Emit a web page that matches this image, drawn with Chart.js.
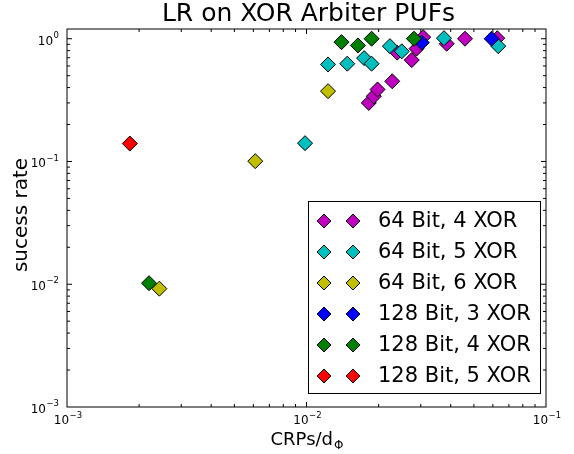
<!DOCTYPE html>
<html>
<head>
<meta charset="utf-8">
<script src="https://cdn.jsdelivr.net/npm/chart.js@4.4.0/dist/chart.umd.min.js"></script>
<style>
  html, body { margin: 0; padding: 0; background: #fff; }
  canvas { display: block; }
</style>
</head>
<body>
<canvas id="puf-chart" width="574" height="454"></canvas>
<script>
// series, in legend order
const seriesLabels = ['64 Bit, 4 XOR', '64 Bit, 5 XOR', '64 Bit, 6 XOR', '128 Bit, 3 XOR', '128 Bit, 4 XOR', '128 Bit, 5 XOR'];
const seriesColors = ['#bf00bf', '#00bfbf', '#bfbf00', '#0000ff', '#008000', '#ff0000'];

// CRPs/d_Phi (x) and success rate (y)
const b64x4CRPs = [0.0182, 0.0191, 0.0198, 0.0228, 0.0239, 0.0275, 0.0288, 0.0307, 0.0385, 0.0459, 0.0626];
const b64x4Rate = [0.30, 0.34, 0.386, 0.45, 0.77, 0.67, 0.83, 1.03, 0.91, 1.0, 1.01];
const b64x5CRPs = [0.00986, 0.0123, 0.0148, 0.0174, 0.0187, 0.0223, 0.0250, 0.0375, 0.0632];
const b64x5Rate = [0.141, 0.617, 0.626, 0.695, 0.626, 0.87, 0.79, 1.01, 0.87];
const b64x6CRPs = [0.00243, 0.00611, 0.0123];
const b64x6Rate = [0.0092, 0.1006, 0.374];
const b128x3CRPs = [0.0303, 0.0593];
const b128x3Rate = [0.93, 1.0];
const b128x4CRPs = [0.0022, 0.0140, 0.0164, 0.0187, 0.0281];
const b128x4Rate = [0.0102, 0.938, 0.882, 1.0, 1.0];
const b128x5CRPs = [0.00183];
const b128x5Rate = [0.140];

const xRange = [0.001, 0.1];
const yRange = [0.001, 1.2];

const seriesX = [b64x4CRPs, b64x5CRPs, b64x6CRPs, b128x3CRPs, b128x4CRPs, b128x5CRPs];
const seriesY = [b64x4Rate, b64x5Rate, b64x6Rate, b128x3Rate, b128x4Rate, b128x5Rate];

const FONT = 'DejaVu Sans';

function exponentOf(value) {
    const e = Math.log10(value);
    const r = Math.round(e);
    return Math.abs(e - r) > 1e-6 ? null : r;
}

function mantissa(v) {
    return v / Math.pow(10, Math.floor(Math.log10(v) + 1e-9));
}

function diamond(ctx, x, y, r, color) {
    ctx.beginPath();
    ctx.moveTo(x - r, y);
    ctx.lineTo(x, y - r);
    ctx.lineTo(x + r, y);
    ctx.lineTo(x, y + r);
    ctx.closePath();
    ctx.fillStyle = color;
    ctx.fill();
    ctx.lineWidth = 1;
    ctx.strokeStyle = '#000';
    ctx.stroke();
}

// "10" with a raised exponent, like matplotlib's mathtext labels
function powerLabel(ctx, exp, x, y, align) {
    const base = '10';
    const sup = String(exp).replace('-', '\u2212');
    ctx.font = `12px "${FONT}"`;
    const wb = ctx.measureText(base).width;
    ctx.font = `8.5px "${FONT}"`;
    const ws = ctx.measureText(sup).width;
    let left = align === 'right' ? x - wb - ws - 0.5 : x - (wb + ws + 0.5) / 2;
    ctx.textAlign = 'left';
    ctx.textBaseline = 'alphabetic';
    ctx.font = `12px "${FONT}"`;
    ctx.fillText(base, left, y + 4.4);
    ctx.font = `8.5px "${FONT}"`;
    ctx.fillText(sup, left + wb + 0.5, y - 2.3);
}

// matplotlib-ish frame with inward ticks on all four sides
const framePlugin = {
    id: 'frame',
    beforeDatasetsDraw(chart) {
        const { ctx, chartArea: a, scales } = chart;
        ctx.save();
        ctx.strokeStyle = '#000';
        ctx.lineWidth = 1;
        ctx.strokeRect(a.left, a.top, a.right - a.left, a.bottom - a.top);

        ctx.beginPath();
        scales.x.ticks.forEach(t => {
            const m = mantissa(t.value);
            if (Math.abs(m - Math.round(m)) > 1e-6) return;
            const px = scales.x.getPixelForValue(t.value);
            if (px <= a.left + 0.5 || px >= a.right - 0.5) return;
            const len = Math.round(m) === 1 ? 5 : 3;
            ctx.moveTo(px, a.bottom); ctx.lineTo(px, a.bottom - len);
            ctx.moveTo(px, a.top); ctx.lineTo(px, a.top + len);
        });
        scales.y.ticks.forEach(t => {
            const m = mantissa(t.value);
            if (Math.abs(m - Math.round(m)) > 1e-6) return;
            const py = scales.y.getPixelForValue(t.value);
            if (py >= a.bottom - 0.5 || py <= a.top + 0.5) return;
            const len = Math.round(m) === 1 ? 5 : 3;
            ctx.moveTo(a.left, py); ctx.lineTo(a.left + len, py);
            ctx.moveTo(a.right, py); ctx.lineTo(a.right - len, py);
        });
        ctx.stroke();

        // tick labels at the decades
        ctx.fillStyle = '#000';
        scales.x.ticks.forEach(t => {
            const e = exponentOf(t.value);
            if (e === null) return;
            powerLabel(ctx, e, scales.x.getPixelForValue(t.value) + 1, a.bottom + 13, 'center');
        });
        scales.y.ticks.forEach(t => {
            const e = exponentOf(t.value);
            if (e === null) return;
            powerLabel(ctx, e, a.left - 8, scales.y.getPixelForValue(t.value) + 1.5, 'right');
        });
        ctx.restore();
    },
    afterDraw(chart) {
        const { ctx, chartArea: a } = chart;
        ctx.save();
        ctx.fillStyle = '#000';

        // title
        ctx.font = `25px "${FONT}"`;
        ctx.textAlign = 'center';
        ctx.textBaseline = 'middle';
        ctx.fillText('LR on XOR Arbiter PUFs', (a.left + a.right) / 2 + 2, 14);

        // x axis title with subscript Phi
        ctx.font = `18px "${FONT}"`;
        const main = 'CRPs/d';
        const wMain = ctx.measureText(main).width;
        ctx.font = `12px "${FONT}"`;
        const wSub = ctx.measureText('\u03A6').width;
        const x0 = (a.left + a.right) / 2 - (wMain + wSub) / 2;
        ctx.textAlign = 'left';
        ctx.textBaseline = 'alphabetic';
        ctx.font = `18px "${FONT}"`;
        ctx.fillText(main, x0, 445);
        ctx.font = `12px "${FONT}"`;
        ctx.fillText('\u03A6', x0 + wMain + 1, 449);

        // y axis title
        ctx.save();
        ctx.translate(22, (a.top + a.bottom) / 2 - 3);
        ctx.rotate(-Math.PI / 2);
        ctx.font = `20px "${FONT}"`;
        ctx.textAlign = 'center';
        ctx.textBaseline = 'middle';
        ctx.fillText('sucess rate', 0, 0);
        ctx.restore();

        // legend box, two markers per entry
        const box = { left: 308.5, top: 201.5, right: 540.5, bottom: 393.5 };
        ctx.fillStyle = '#fff';
        ctx.fillRect(box.left, box.top, box.right - box.left, box.bottom - box.top);
        ctx.strokeStyle = '#000';
        ctx.lineWidth = 1;
        ctx.strokeRect(box.left, box.top, box.right - box.left, box.bottom - box.top);
        ctx.font = `21px "${FONT}"`;
        ctx.textAlign = 'left';
        ctx.textBaseline = 'middle';
        seriesLabels.forEach((label, i) => {
            const y = 221 + i * 31;
            diamond(ctx, 324, y, 7, seriesColors[i]);
            diamond(ctx, 353, y, 7, seriesColors[i]);
            ctx.fillStyle = '#000';
            ctx.fillText(label, 378, y + 1);
        });
        ctx.restore();
    }
};

const datasets = seriesLabels.map((label, i) => ({
    label: label,
    data: seriesX[i].map((x, j) => ({ x: x, y: seriesY[i][j] })),
    pointStyle: 'rectRot',
    pointRadius: 7.5,
    pointHoverRadius: 7.5,
    backgroundColor: seriesColors[i],
    borderColor: '#000',
    borderWidth: 1,
    order: seriesLabels.length - i
}));

const ctx = document.getElementById('puf-chart').getContext('2d');
new Chart(ctx, {
    type: 'scatter',
    data: { datasets: datasets },
    options: {
        responsive: false,
        animation: false,
        devicePixelRatio: 1,
        layout: { padding: { top: 29, right: 28, left: 0, bottom: 0 } },
        plugins: {
            legend: { display: false },
            title: { display: false },
            tooltip: { enabled: false }
        },
        scales: {
            x: {
                type: 'logarithmic',
                min: xRange[0],
                max: xRange[1],
                grid: { display: false, drawTicks: false },
                border: { display: false },
                ticks: { display: false, autoSkip: false },
                afterFit(scale) { scale.height = 47; }
            },
            y: {
                type: 'logarithmic',
                min: yRange[0],
                max: yRange[1],
                grid: { display: false, drawTicks: false },
                border: { display: false },
                ticks: { display: false, autoSkip: false },
                afterFit(scale) { scale.width = 67; }
            }
        }
    },
    plugins: [framePlugin]
});
</script>
</body>
</html>
